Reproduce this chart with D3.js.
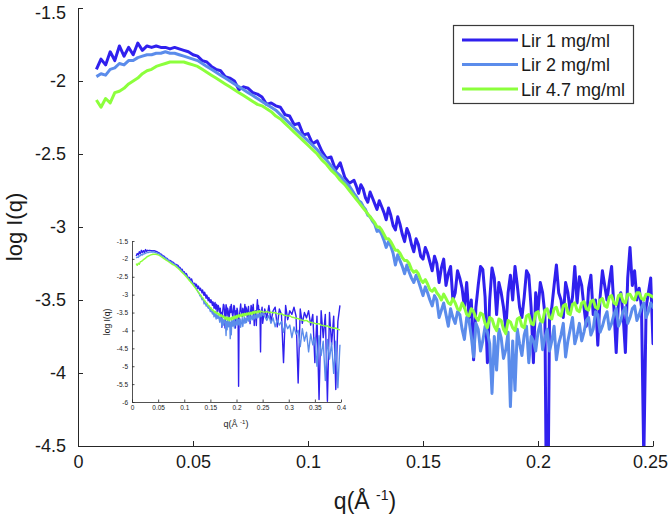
<!DOCTYPE html>
<html><head><meta charset="utf-8">
<script src="https://cdn.jsdelivr.net/npm/d3@7"></script>
<style>
body{margin:0;background:#fff}
text{font-family:"Liberation Sans",Arial,Helvetica,sans-serif;fill:#1a1a1a}
</style>
</head><body>
<svg id="c" width="668" height="525"></svg>
<script>
// ---------- data ----------
const seriesNames = ["Lir 1 mg/ml", "Lir 2 mg/ml", "Lir 4.7 mg/ml"];
const seriesColors = ["#3020ee", "#5b8ceb", "#8cff3c"];
const xTicks = [0, 0.05, 0.1, 0.15, 0.2, 0.25];
const xTickLabels = ["0", "0.05", "0.1", "0.15", "0.2", "0.25"];
const yTicks = [-4.5, -4, -3.5, -3, -2.5, -2, -1.5];
const yTickLabels = ["-4.5", "-4", "-3.5", "-3", "-2.5", "-2", "-1.5"];
const insetXTicks = [0, 0.05, 0.1, 0.15, 0.2, 0.25, 0.3, 0.35, 0.4];
const insetXTickLabels = ["0", "0.05", "0.1", "0.15", "0.2", "0.25", "0.3", "0.35", "0.4"];
const insetYTicks = [-6, -5.5, -5, -4.5, -4, -3.5, -3, -2.5, -2, -1.5];
const insetYTickLabels = ["-6", "-5.5", "-5", "-4.5", "-4", "-3.5", "-3", "-2.5", "-2", "-1.5"];

// q grid (Å^-1): 0.008..0.120 step 0.002 | 0.121..0.250 step 0.001 | 0.254..0.398 step 0.004
const qA = d3.range(0, 57).map(i => +(0.008 + 0.002 * i).toFixed(3));
const qB = d3.range(0, 130).map(i => +(0.121 + 0.001 * i).toFixed(3));
const qC = d3.range(0, 37).map(k => +(0.254 + 0.004 * k).toFixed(3));
const q = qA.concat(qB, qC);

// log I(q), Lir 1 mg/ml
const lir1 = [
 // 0.008 .. 0.120
 -1.92,-1.85,-1.89,-1.80,-1.86,-1.76,-1.83,-1.77,-1.82,-1.74,
 -1.79,-1.76,-1.77,-1.76,-1.77,-1.77,-1.78,-1.77,-1.78,-1.79,
 -1.80,-1.82,-1.83,-1.86,-1.87,-1.90,-1.92,-1.93,-1.97,-1.98,
 -2.00,-2.06,-2.04,-2.05,-2.08,-2.09,-2.11,-2.16,-2.15,-2.17,
 -2.18,-2.23,-2.24,-2.30,-2.29,-2.37,-2.36,-2.43,-2.41,-2.48,
 -2.53,-2.52,-2.61,-2.56,-2.66,-2.70,-2.68,
 // 0.121 .. 0.250
 -2.72,-2.77,-2.71,-2.74,-2.80,-2.83,-2.76,-2.80,-2.84,-2.88,
 -2.82,-2.86,-2.90,-2.95,-2.87,-2.92,-2.99,-3.02,-2.93,-2.98,
 -3.05,-3.10,-3.01,-3.05,-3.12,-3.17,-3.08,-3.12,-3.20,-3.22,
 -3.14,-3.18,-3.24,-3.30,-3.20,-3.25,-3.38,-3.28,-3.22,-3.40,
 -3.32,-3.27,-3.50,-3.45,-3.30,-3.35,-3.42,-3.55,-3.38,-3.62,
 -3.50,-3.91,-3.55,-3.40,-3.27,-3.29,-3.48,-3.93,-3.50,-3.28,
 -3.35,-3.60,-3.38,-3.45,-3.55,-3.70,-3.45,-3.33,-3.50,-3.27,
 -3.40,-3.55,-3.62,-3.48,-3.30,-3.33,-3.55,-3.93,-3.45,-3.58,
 -3.38,-3.45,-3.60,-5.56,-3.62,-3.55,-3.40,-3.26,-3.45,-3.50,
 -3.62,-3.38,-3.45,-3.58,-3.48,-3.27,-3.52,-3.34,-3.40,-3.55,
 -3.68,-3.42,-3.33,-3.60,-3.50,-3.81,-3.48,-3.30,-3.40,-3.50,
 -3.38,-3.27,-3.55,-3.86,-3.50,-3.45,-3.60,-3.86,-3.35,-3.14,
 -3.40,-3.30,-3.50,-3.42,-3.55,-4.60,-3.55,-3.45,-3.35,-3.80,
 // 0.254 .. 0.398 (inset only)
 -3.40,-3.65,-3.30,-3.75,-3.45,-3.35,-3.90,-3.40,-3.55,-4.90,
 -3.30,-3.70,-3.45,-3.55,-3.35,-3.60,-5.47,-3.40,-3.80,-3.50,
 -3.65,-3.45,-3.85,-3.55,-4.90,-3.60,-5.93,-3.45,-4.20,-3.55,
 -5.98,-3.50,-4.40,-3.60,-5.65,-3.75,-3.30
];
// log I(q), Lir 2 mg/ml
const lir2 = [
 // 0.008 .. 0.120
 -1.97,-1.95,-1.96,-1.92,-1.91,-1.88,-1.89,-1.86,-1.86,-1.84,
 -1.83,-1.82,-1.82,-1.81,-1.81,-1.80,-1.81,-1.81,-1.82,-1.83,
 -1.84,-1.85,-1.86,-1.88,-1.90,-1.92,-1.94,-1.96,-1.98,-2.00,
 -2.02,-2.04,-2.06,-2.08,-2.10,-2.12,-2.14,-2.16,-2.18,-2.20,
 -2.23,-2.26,-2.29,-2.32,-2.35,-2.38,-2.41,-2.44,-2.47,-2.51,
 -2.54,-2.58,-2.62,-2.65,-2.69,-2.72,-2.77,
 // 0.121 .. 0.250
 -2.79,-2.82,-2.83,-2.86,-2.88,-2.92,-2.93,-2.96,-2.98,-3.03,
 -3.02,-3.05,-3.09,-3.14,-3.10,-3.13,-3.18,-3.26,-3.19,-3.23,
 -3.27,-3.32,-3.26,-3.31,-3.35,-3.38,-3.33,-3.37,-3.42,-3.47,
 -3.41,-3.45,-3.50,-3.54,-3.47,-3.50,-3.62,-3.57,-3.52,-3.60,
 -3.68,-3.56,-3.62,-3.66,-3.58,-3.60,-3.70,-3.77,-3.62,-3.64,
 -3.75,-3.89,-3.66,-3.70,-3.85,-3.78,-3.68,-3.72,-3.80,-4.14,
 -3.75,-3.98,-3.70,-3.76,-3.90,-3.84,-3.72,-4.23,-3.78,-4.12,
 -3.70,-3.80,-3.88,-3.74,-3.68,-3.93,-3.75,-3.78,-3.85,-3.72,
 -3.66,-3.84,-3.76,-3.70,-3.85,-3.78,-3.68,-3.91,-3.80,-3.74,
 -3.66,-3.89,-3.78,-3.70,-3.62,-3.80,-3.74,-3.66,-3.78,-3.72,
 -3.64,-3.62,-3.74,-3.70,-3.58,-3.60,-3.72,-3.68,-3.62,-3.58,
 -3.70,-3.66,-3.60,-3.56,-3.68,-3.64,-3.58,-3.55,-3.66,-3.62,
 -3.56,-3.54,-3.64,-3.60,-3.55,-3.52,-3.62,-3.58,-3.52,-3.55,
 // 0.254 .. 0.398 (inset only)
 -3.60,-3.72,-3.58,-3.80,-3.65,-3.90,-3.70,-3.85,-3.75,-4.05,
 -3.80,-3.95,-3.85,-4.20,-3.90,-4.10,-4.00,-4.45,-3.95,-4.30,
 -4.05,-4.60,-4.10,-4.40,-4.20,-5.00,-4.15,-4.70,-4.30,-5.40,
 -4.25,-4.80,-4.35,-5.20,-4.30,-5.60,-4.40
];
// log I(q), Lir 4.7 mg/ml
const lir47 = [
 // 0.008 .. 0.120
 -2.13,-2.18,-2.12,-2.15,-2.08,-2.07,-2.05,-2.02,-2.00,-1.98,
 -1.95,-1.93,-1.92,-1.90,-1.89,-1.88,-1.87,-1.87,-1.87,-1.87,
 -1.88,-1.89,-1.90,-1.92,-1.94,-1.96,-1.98,-2.00,-2.02,-2.04,
 -2.06,-2.08,-2.10,-2.12,-2.14,-2.16,-2.17,-2.19,-2.21,-2.24,
 -2.26,-2.29,-2.32,-2.35,-2.38,-2.41,-2.44,-2.47,-2.50,-2.54,
 -2.57,-2.61,-2.64,-2.68,-2.71,-2.75,-2.79,
 // 0.121 .. 0.250
 -2.81,-2.83,-2.85,-2.87,-2.89,-2.91,-2.93,-2.95,-2.97,-3.00,
 -3.00,-3.02,-3.05,-3.08,-3.08,-3.10,-3.13,-3.16,-3.16,-3.18,
 -3.21,-3.23,-3.23,-3.25,-3.29,-3.31,-3.30,-3.32,-3.36,-3.38,
 -3.36,-3.39,-3.43,-3.44,-3.42,-3.45,-3.47,-3.50,-3.46,-3.49,
 -3.52,-3.53,-3.49,-3.52,-3.56,-3.57,-3.52,-3.55,-3.60,-3.61,
 -3.56,-3.58,-3.62,-3.64,-3.59,-3.60,-3.66,-3.69,-3.62,-3.63,
 -3.68,-3.71,-3.63,-3.64,-3.70,-3.73,-3.64,-3.65,-3.69,-3.71,
 -3.63,-3.62,-3.68,-3.69,-3.61,-3.60,-3.66,-3.67,-3.59,-3.58,
 -3.64,-3.65,-3.57,-3.56,-3.62,-3.63,-3.56,-3.55,-3.60,-3.61,
 -3.54,-3.53,-3.59,-3.60,-3.53,-3.52,-3.57,-3.58,-3.52,-3.51,
 -3.56,-3.57,-3.51,-3.50,-3.55,-3.56,-3.50,-3.49,-3.54,-3.55,
 -3.48,-3.47,-3.52,-3.53,-3.47,-3.46,-3.51,-3.52,-3.46,-3.46,
 -3.49,-3.50,-3.45,-3.45,-3.49,-3.50,-3.46,-3.46,-3.47,-3.48,
 // 0.254 .. 0.398 (inset only)
 -3.49,-3.47,-3.50,-3.49,-3.51,-3.50,-3.53,-3.54,-3.53,-3.57,
 -3.58,-3.60,-3.59,-3.63,-3.64,-3.66,-3.67,-3.70,-3.71,-3.73,
 -3.72,-3.76,-3.77,-3.79,-3.80,-3.82,-3.81,-3.85,-3.86,-3.88,
 -3.87,-3.91,-3.92,-3.94,-3.93,-3.97,-3.98
];
const seriesValues = [lir1, lir2, lir47];

// ---------- drawing ----------
const svg = d3.select("#c");
const series = seriesValues.map((vals, s) => ({
  name: seriesNames[s], color: seriesColors[s],
  pts: q.map((qq, i) => ({ q: qq, v: vals[i] }))
}));

function drawAxes(g, xs, ys, opt) {
  const xa = d3.axisBottom(xs).tickValues(opt.xt).tickFormat((d, i) => opt.xl[i])
    .tickSizeInner(-opt.tick).tickSizeOuter(0).tickPadding(opt.xpad);
  const ya = d3.axisLeft(ys).tickValues(opt.yt).tickFormat((d, i) => opt.yl[i])
    .tickSizeInner(-opt.tick).tickSizeOuter(0).tickPadding(opt.ypad);
  const gx = g.append("g").attr("transform", `translate(0,${ys.range()[0]})`).call(xa);
  const gy = g.append("g").attr("transform", `translate(${xs.range()[0]},0)`).call(ya);
  [gx, gy].forEach(a => {
    a.select(".domain").attr("stroke", "#262626").attr("stroke-width", opt.sw);
    a.selectAll(".tick line").attr("stroke", "#262626").attr("stroke-width", opt.sw);
    a.selectAll(".tick text").attr("font-size", opt.fs).attr("fill", "#1a1a1a")
      .attr("font-family", '"Liberation Sans",Arial,sans-serif');
  });
  return { gx, gy };
}

function drawLines(g, xs, ys, id, width) {
  const [x0, x1] = xs.range(), [y0, y1] = ys.range();
  svg.append("defs").append("clipPath").attr("id", id)
    .append("rect").attr("x", x0).attr("y", y1).attr("width", x1 - x0).attr("height", y0 - y1);
  const line = d3.line().x(d => xs(d.q)).y(d => ys(d.v));
  g.append("g").attr("clip-path", `url(#${id})`)
    .selectAll("path").data(series).join("path")
    .attr("d", d => line(d.pts)).attr("fill", "none")
    .attr("stroke", d => d.color).attr("stroke-width", width)
    .attr("stroke-linejoin", "round");
}

// main axes
const x = d3.scaleLinear().domain([0, 0.25]).range([78, 653]);
const y = d3.scaleLinear().domain([-4.5, -1.5]).range([446, 8]);
const main = svg.append("g");
drawLines(main, x, y, "clipMain", 3);
const ax = drawAxes(main, x, y, { xt: xTicks, xl: xTickLabels, yt: yTicks, yl: yTickLabels,
  tick: 5, xpad: 9, ypad: 12, fs: 18, sw: 1 });
// keep edge labels inside the picture, as in the reference
ax.gy.selectAll(".tick text").filter(d => d === -1.5).attr("y", 5);
ax.gx.selectAll(".tick text").filter(d => d === 0.25).attr("x", -3);

main.append("text").attr("transform", "translate(22,227) rotate(-90)")
  .attr("text-anchor", "middle").attr("font-size", 22).text("log I(q)");
const xl = main.append("text").attr("x", 365).attr("y", 509)
  .attr("text-anchor", "middle").attr("font-size", 23);
xl.append("tspan").text("q(Å ");
xl.append("tspan").attr("font-size", 14).attr("dy", -9).text("-1");
xl.append("tspan").attr("dy", 9).text(")");

// legend
const lg = svg.append("g");
lg.append("rect").attr("x", 453.5).attr("y", 25.5).attr("width", 180).attr("height", 78)
  .attr("fill", "#fff").attr("stroke", "#3a3a3a").attr("stroke-width", 1.2);
series.forEach((s, i) => {
  const yy = 40 + i * 24.5;
  lg.append("line").attr("x1", 462).attr("x2", 518).attr("y1", yy).attr("y2", yy)
    .attr("stroke", s.color).attr("stroke-width", 3);
  lg.append("text").attr("x", 521).attr("y", yy + 6.5).attr("font-size", 18).text(s.name);
});

// inset
const xi = d3.scaleLinear().domain([0, 0.4]).range([132, 341]);
const yi = d3.scaleLinear().domain([-6, -1.5]).range([402, 241]);
const inset = svg.append("g");
drawLines(inset, xi, yi, "clipInset", 1.4);
drawAxes(inset, xi, yi, { xt: insetXTicks, xl: insetXTickLabels, yt: insetYTicks, yl: insetYTickLabels,
  tick: 2.5, xpad: 3, ypad: 4, fs: 6.5, sw: 0.8 });
inset.append("text").attr("transform", "translate(110,322) rotate(-90)")
  .attr("text-anchor", "middle").attr("font-size", 8.5).text("log I(q)");
const xli = inset.append("text").attr("x", 236).attr("y", 427)
  .attr("text-anchor", "middle").attr("font-size", 9);
xli.append("tspan").text("q(Å ");
xli.append("tspan").attr("font-size", 6).attr("dy", -3.5).text("-1");
xli.append("tspan").attr("dy", 3.5).text(")");
</script>
</body></html>
